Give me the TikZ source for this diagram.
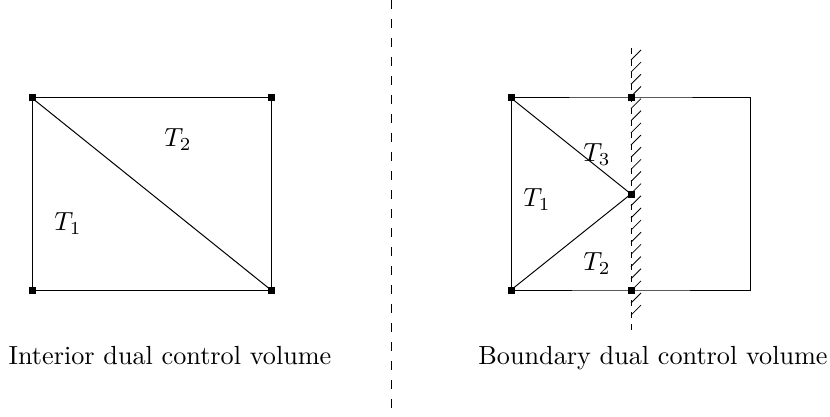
\documentclass[tikz,border=0pt]{standalone}
\usepackage{fontspec,tikz}

\tikzset{
  vertex/.style={fill,rectangle,inner sep=0pt,minimum size=7pt},
  edge/.style={line width=1pt},
  lbl/.style={inner sep=0pt,scale=2.62},
}

\begin{document}
\begin{tikzpicture}[x=1pt,y=-1pt]
\path[use as bounding box] (0,0) rectangle (830.0,417.0);
% separator
\coordinate (sepTop) at (391,0);
\coordinate (sepBot) at (391,417);
\draw[line width=1pt,dash pattern=on 9pt off 10pt] (sepTop) -- (sepBot);
% interior volume
\node[vertex] (a1) at (32,98) {};
\node[vertex] (a2) at (271,98) {};
\node[vertex] (a3) at (271,290) {};
\node[vertex] (a4) at (32,290) {};
\draw[edge] (a1.center) -- (a2.center) -- (a3.center) -- (a4.center) -- cycle;
\draw[edge] (a1.center) -- (a3.center);
\node[lbl] (aT2) at (178,140) {$T_2$};
\node[lbl] (aT1) at (68,224) {$T_1$};
\node[lbl,anchor=base] (capA) at (170,364) {Interior dual control volume};
% boundary volume
\node[vertex] (b1) at (511,98) {};
\node[vertex] (b2) at (631,98) {};
\node[vertex] (b3) at (631,194) {};
\node[vertex] (b4) at (511,290) {};
\node[vertex] (b5) at (631,290) {};
\coordinate (b6) at (750,98);
\coordinate (b7) at (750,290);
\draw[edge] (b1.center) -- (b2.center) -- (b6) -- (b7) -- (b5.center) -- (b4.center) -- cycle;
\draw[edge] (b1.center) -- (b3.center) -- (b4.center);
% wall
\coordinate (wTop) at (631,48);
\coordinate (wBot) at (631,330);
\draw[line width=0.8pt,dash pattern=on 6pt off 6pt] (wTop) -- (wBot);
\foreach \y in {60,72.15,...,316}
  \draw[line width=0.8pt] (631,\y) -- ++(10,-10);
\node[lbl] (bT3) at (597,155) {$T_3$};
\node[lbl] (bT1) at (537,200) {$T_1$};
\node[lbl] (bT2) at (597,264) {$T_2$};
\node[lbl,anchor=base] (capB) at (653,364) {Boundary dual control volume};
\end{tikzpicture}
\end{document}
